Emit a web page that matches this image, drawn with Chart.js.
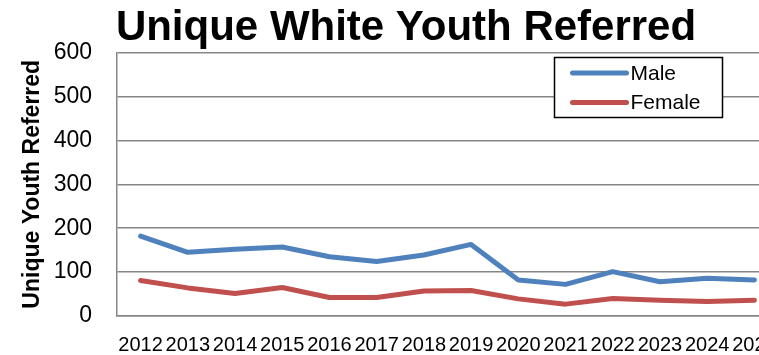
<!DOCTYPE html>
<html><head><meta charset="utf-8">
<script src="https://cdn.jsdelivr.net/npm/chart.js@4"></script>
<style>
html,body{margin:0;padding:0;overflow:hidden;background:#fff;width:759px;height:355px}
#wrap{position:relative;width:812px;height:355px}
</style></head>
<body><div id="wrap"><canvas id="c" width="812" height="355"></canvas></div>
<script>
const years = ['2012','2013','2014','2015','2016','2017','2018','2019','2020','2021','2022','2023','2024','2025'];
const male = [182, 145, 152, 157, 135, 124, 139, 163, 82, 72, 101, 78, 86, 82];
const female = [81, 64, 51, 65, 42, 42, 57, 58, 39, 27, 40, 36, 33, 36];
const seriesNames = ['Male', 'Female'];
const seriesColors = ['#4F81BD', '#C0504D'];
const chartTitle = 'Unique White Youth Referred';
const yTitle = 'Unique Youth Referred';
const yMin = 0, yMax = 600, yStep = 100;

const gridColor = '#868686';
const FONT = '"Liberation Sans", Arial, sans-serif';

const titlePlugin = {
  id: 'topTitle',
  afterDraw(chart) {
    const ctx = chart.ctx;
    ctx.save();
    ctx.font = 'bold 42px ' + FONT;
    ctx.fillStyle = '#000';
    ctx.textAlign = 'center';
    ctx.textBaseline = 'alphabetic';
    ctx.fillText(chartTitle, chart.width / 2, 40);
    ctx.restore();
  }
};

const legendPlugin = {
  id: 'boxLegend',
  afterDraw(chart) {
    const ctx = chart.ctx;
    const ca = chart.chartArea;
    const x = ca.left + 437.5, y = ca.top + 5, w = 168, h = 60;
    ctx.save();
    ctx.fillStyle = '#fff';
    ctx.fillRect(x, y, w, h);
    ctx.strokeStyle = '#000';
    ctx.lineWidth = 1.5;
    ctx.strokeRect(x, y, w, h);
    ctx.font = '21px ' + FONT;
    ctx.textBaseline = 'middle';
    ctx.fillStyle = '#000';
    chart.data.datasets.forEach((ds, i) => {
      const ly = y + 15.5 + i * 29.5;
      ctx.strokeStyle = ds.borderColor;
      ctx.lineWidth = 5;
      ctx.lineCap = 'round';
      ctx.beginPath();
      ctx.moveTo(x + 18, ly);
      ctx.lineTo(x + 72, ly);
      ctx.stroke();
      ctx.fillText(ds.label, x + 76, ly + 1);
    });
    ctx.restore();
  }
};

new Chart(document.getElementById('c'), {
  type: 'line',
  data: {
    labels: years,
    datasets: [
      { label: seriesNames[0], data: male, borderColor: seriesColors[0], backgroundColor: seriesColors[0],
        borderWidth: 5, pointRadius: 0, tension: 0, borderCapStyle: 'round', borderJoinStyle: 'round' },
      { label: seriesNames[1], data: female, borderColor: seriesColors[1], backgroundColor: seriesColors[1],
        borderWidth: 5, pointRadius: 0, tension: 0, borderCapStyle: 'round', borderJoinStyle: 'round' }
    ]
  },
  options: {
    responsive: false,
    animation: false,
    events: [],
    layout: { padding: { left: 0, right: 34, top: 52.5, bottom: 0 } },
    plugins: {
      legend: { display: false },
      tooltip: { enabled: false },
      title: { display: false }
    },
    scales: {
      x: {
        offset: true,
        grid: { display: false, drawTicks: false },
        border: { display: true, color: gridColor, width: 1.5 },
        ticks: { color: '#000', font: { family: FONT, size: 20 }, padding: 17, maxRotation: 0, autoSkip: false },
        afterFit(s) { s.height = 39; }
      },
      y: {
        min: yMin, max: yMax,
        grid: { color: gridColor, lineWidth: 1.5, drawTicks: false },
        border: { display: true, color: gridColor, width: 1.5 },
        ticks: { stepSize: yStep, color: '#000', font: { family: FONT, size: 23 }, padding: 25 },
        title: { display: true, text: yTitle, color: '#000',
          font: { family: FONT, size: 23, weight: 'bold', lineHeight: 1.2 },
          padding: { top: 19, bottom: 0 } },
        afterFit(s) { s.width = 117; }
      }
    }
  },
  plugins: [titlePlugin, legendPlugin]
});
</script>
</body></html>
